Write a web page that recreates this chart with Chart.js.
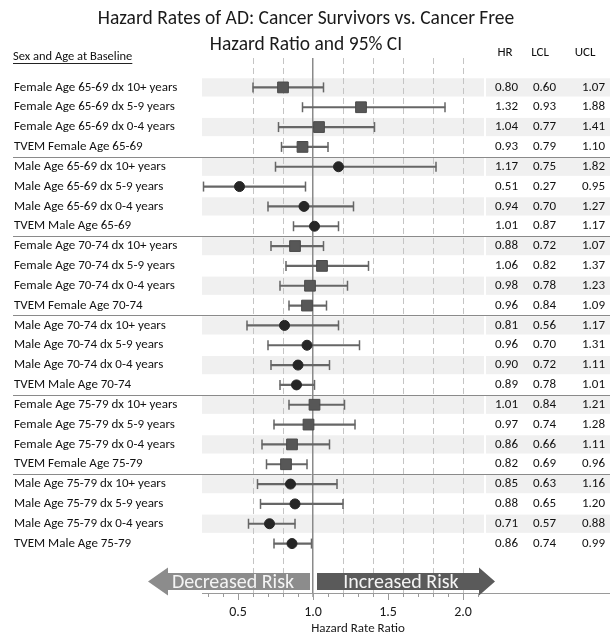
<!DOCTYPE html>
<html><head><meta charset="utf-8">
<script src="https://cdn.jsdelivr.net/npm/chart.js@4.4.1/dist/chart.umd.min.js"></script>
<style>html,body{margin:0;padding:0;background:#fff}#wrap{width:610px;height:635px;position:relative}</style>
</head><body><div id="wrap"><canvas id="c"></canvas></div>
<script>
const rowLabels = [
  'Female Age 65-69 dx 10+ years','Female Age 65-69 dx 5-9 years','Female Age 65-69 dx 0-4 years','TVEM Female Age 65-69',
  'Male Age 65-69 dx 10+ years','Male Age 65-69 dx 5-9 years','Male Age 65-69 dx 0-4 years','TVEM Male Age 65-69',
  'Female Age 70-74 dx 10+ years','Female Age 70-74 dx 5-9 years','Female Age 70-74 dx 0-4 years','TVEM Female Age 70-74',
  'Male Age 70-74 dx 10+ years','Male Age 70-74 dx 5-9 years','Male Age 70-74 dx 0-4 years','TVEM Male Age 70-74',
  'Female Age 75-79 dx 10+ years','Female Age 75-79 dx 5-9 years','Female Age 75-79 dx 0-4 years','TVEM Female Age 75-79',
  'Male Age 75-79 dx 10+ years','Male Age 75-79 dx 5-9 years','Male Age 75-79 dx 0-4 years','TVEM Male Age 75-79'
];
const sex = ['F','F','F','F','M','M','M','M','F','F','F','F','M','M','M','M','F','F','F','F','M','M','M','M'];
const hr  = [0.80,1.32,1.04,0.93, 1.17,0.51,0.94,1.01, 0.88,1.06,0.98,0.96, 0.81,0.96,0.90,0.89, 1.01,0.97,0.86,0.82, 0.85,0.88,0.71,0.86];
const lcl = [0.60,0.93,0.77,0.79, 0.75,0.27,0.70,0.87, 0.72,0.82,0.78,0.84, 0.56,0.70,0.72,0.78, 0.84,0.74,0.66,0.69, 0.63,0.65,0.57,0.74];
const ucl = [1.07,1.88,1.41,1.10, 1.82,0.95,1.27,1.17, 1.07,1.37,1.23,1.09, 1.17,1.31,1.11,1.01, 1.21,1.28,1.11,0.96, 1.16,1.20,0.88,0.99];
const xTickLabels = ['0.5','1.0','1.5','2.0'];
const dashedGridValues = ['0.6','0.8','1.2','1.4','1.6','1.8','2.0'];
const columnHeaders = ['HR','LCL','UCL'];
const groupEnds = [3,7,11,15,19];
const titleLines = ['Hazard Rates of AD: Cancer Survivors vs. Cancer Free','Hazard Ratio and 95% CI'];
const leftHeader = 'Sex and Age at Baseline';
const arrowTexts = ['Decreased Risk','Increased Risk'];
const xTitle = 'Hazard Rate Ratio';

const FONT = 'Carlito, Lato, sans-serif';
Chart.defaults.font.family = FONT;
Chart.defaults.color = '#1a1a1a';

const idx = rowLabels.map((_, i) => i);
const femaleIdx = idx.filter(i => sex[i] === 'F');
const maleIdx = idx.filter(i => sex[i] === 'M');

const decor = {
  id: 'decor',
  beforeDraw(chart) {
    const {ctx, chartArea: a, scales: {y}} = chart;
    const W = chart.width;
    ctx.save();
    ctx.fillStyle = '#f0f0f0';
    idx.forEach(i => {
      if (i % 2) return;
      const y0 = y.getPixelForValue(i - 0.46), y1 = y.getPixelForValue(i + 0.46);
      ctx.fillRect(a.left, y0, a.right - a.left, y1 - y0);
      ctx.fillRect(a.right + 2, y0, W - a.right - 2, y1 - y0);
    });
    ctx.fillStyle = '#1a1a1a';
    ctx.font = '19.5px ' + FONT;
    ctx.textAlign = 'center'; ctx.textBaseline = 'middle';
    ctx.fillText(titleLines[0], 306, 19);
    ctx.fillText(titleLines[1], 306, 45);
    ctx.restore();
  },
  afterDatasetsDraw(chart) {
    const {ctx, chartArea: a, scales: {x, y}} = chart;
    const W = chart.width;
    ctx.save();
    ctx.strokeStyle = '#8a8a8a'; ctx.lineWidth = 1;
    groupEnds.forEach(g => {
      const py = Math.round(y.getPixelForValue(g + 0.5)) + 0.5;
      ctx.beginPath(); ctx.moveTo(13, py); ctx.lineTo(W, py); ctx.stroke();
    });
    ctx.strokeStyle = '#9a9a9a';
    ctx.beginPath(); ctx.moveTo(a.right, a.bottom + 0.5); ctx.lineTo(W, a.bottom + 0.5); ctx.stroke();
    // longer major ticks
    xTickLabels.forEach(s => {
      const px = Math.round(x.getPixelForValue(parseFloat(s))) + 0.5;
      ctx.beginPath(); ctx.moveTo(px, a.bottom); ctx.lineTo(px, a.bottom + 7); ctx.stroke();
    });
    // arrows
    const one = x.getPixelForValue(1);
    const cy = a.bottom - 11.5;
    const bh = 8.5, hh = 14;
    const lTip = a.left - 54, lHead = lTip + 20, lEnd = one - 3;
    ctx.fillStyle = '#8c8c8c';
    ctx.beginPath();
    ctx.moveTo(lTip, cy); ctx.lineTo(lHead, cy - hh); ctx.lineTo(lHead, cy - bh); ctx.lineTo(lEnd, cy - bh);
    ctx.lineTo(lEnd, cy + bh); ctx.lineTo(lHead, cy + bh); ctx.lineTo(lHead, cy + hh); ctx.closePath(); ctx.fill();
    const rStart = one + 4, rTip = a.right + 11, rHead = rTip - 16;
    ctx.fillStyle = '#5a5a5a';
    ctx.beginPath();
    ctx.moveTo(rStart, cy - bh); ctx.lineTo(rHead, cy - bh); ctx.lineTo(rHead, cy - hh); ctx.lineTo(rTip, cy);
    ctx.lineTo(rHead, cy + hh); ctx.lineTo(rHead, cy + bh); ctx.lineTo(rStart, cy + bh); ctx.closePath(); ctx.fill();
    ctx.fillStyle = '#f4f4f4';
    ctx.font = '20px ' + FONT;
    ctx.textBaseline = 'middle'; ctx.textAlign = 'center';
    ctx.fillText(arrowTexts[0], (lHead + lEnd) / 2 - 6, cy + 1);
    ctx.fillText(arrowTexts[1], (rStart + rHead) / 2 + 3, cy + 1);
    // x axis title
    ctx.fillStyle = '#1a1a1a';
    ctx.font = '13px ' + FONT;
    ctx.fillText(xTitle, 358, 629);
    // table
    ctx.fillStyle = '#111';
    ctx.font = '13px ' + FONT;
    const colRight = [a.right + 34, a.right + 72, a.right + 121];
    const colHead = [a.right + 21, a.right + 56, a.right + 101];
    ctx.textAlign = 'center';
    columnHeaders.forEach((h, k) => ctx.fillText(h, colHead[k], 53));
    ctx.textAlign = 'right';
    idx.forEach(i => {
      const py = y.getPixelForValue(i);
      [hr[i], lcl[i], ucl[i]].forEach((v, k) => ctx.fillText(v.toFixed(2), colRight[k], py));
    });
    ctx.textAlign = 'left';
    ctx.font = '12.5px ' + FONT;
    ctx.fillText(leftHeader, 13, 57);
    const w = ctx.measureText(leftHeader).width;
    ctx.strokeStyle = '#222'; ctx.lineWidth = 1;
    ctx.beginPath(); ctx.moveTo(13, 63.5); ctx.lineTo(13 + w, 63.5); ctx.stroke();
    ctx.restore();
  }
};

const isVal = (v, s) => Math.abs(v - parseFloat(s)) < 1e-6;

new Chart(document.getElementById('c'), {
  type: 'scatter',
  data: {
    datasets: [
      {
        type: 'bar', indexAxis: 'y', order: 3,
        data: idx.map(i => ({x: [lcl[i], ucl[i]], y: i})),
        backgroundColor: '#666', borderWidth: 0, barThickness: 1.5
      },
      {
        order: 2,
        data: idx.map(i => ({x: lcl[i], y: i})).concat(idx.map(i => ({x: ucl[i], y: i}))),
        pointStyle: 'line', rotation: 90, pointRadius: 5, borderColor: '#666', borderWidth: 1.5,
        backgroundColor: '#666'
      },
      {
        order: 1,
        data: femaleIdx.map(i => ({x: hr[i], y: i})),
        pointStyle: 'rect', pointRadius: 7.6, backgroundColor: '#575757', borderColor: '#4a4a4a', borderWidth: 1
      },
      {
        order: 0,
        data: maleIdx.map(i => ({x: hr[i], y: i})),
        pointStyle: 'circle', pointRadius: 5, backgroundColor: '#262626', borderColor: '#262626', borderWidth: 1
      }
    ]
  },
  options: {
    responsive: true, maintainAspectRatio: false, animation: false,
    layout: {padding: {left: 14, right: 126, top: 58, bottom: 0}},
    plugins: {legend: {display: false}, tooltip: {enabled: false}, title: {display: false}},
    scales: {
      x: {
        type: 'linear', min: 0.26, max: 2.14,
        afterBuildTicks: s => { const t = []; for (let k = 3; k <= 21; k++) t.push({value: k / 10}); s.ticks = t; },
        afterFit: s => { s.height = 42; },
        ticks: {
          autoSkip: false, maxRotation: 0, minRotation: 0, padding: 7, color: '#1a1a1a', font: {size: 14},
          callback: v => { const s = v.toFixed(1); return xTickLabels.includes(s) ? s : ''; }
        },
        grid: {
          color: c => { if (!c.tick) return 'rgba(0,0,0,0)'; const v = c.tick.value; if (isVal(v, '1.0')) return '#8a8a8a'; return dashedGridValues.some(s => isVal(v, s)) ? '#c4c4c4' : 'rgba(0,0,0,0)'; },
          lineWidth: c => (c.tick && isVal(c.tick.value, '1.0')) ? 1.5 : 1,
          tickColor: '#9a9a9a', tickLength: 4, tickWidth: 1
        },
        border: {
          display: true, color: '#9a9a9a', width: 1,
          dash: c => (c.tick && !isVal(c.tick.value, '1.0')) ? [6, 4] : []
        },
        title: {display: false}
      },
      y: {
        type: 'linear', reverse: true, min: -0.92, max: 24.93,
        afterBuildTicks: s => { s.ticks = idx.map(i => ({value: i})); },
        afterFit: s => { s.width = 188; },
        ticks: {
          autoSkip: false, crossAlign: 'far', color: '#111', font: {size: 13},
          callback: v => rowLabels[v] ?? ''
        },
        grid: {display: false},
        border: {display: false}
      }
    }
  },
  plugins: [decor]
});
</script></body></html>
